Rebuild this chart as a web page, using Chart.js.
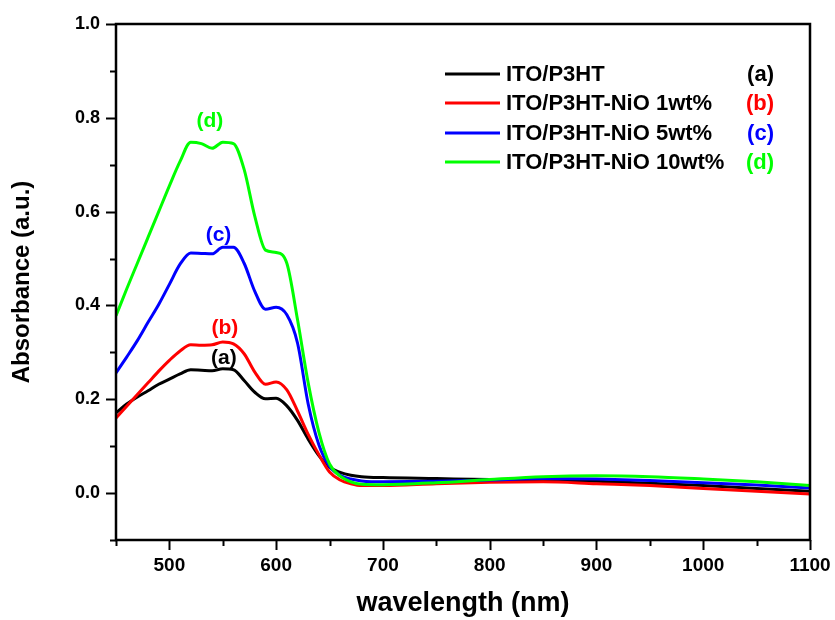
<!DOCTYPE html>
<html>
<head>
<meta charset="utf-8">
<script src="https://cdn.jsdelivr.net/npm/chart.js@4/dist/chart.umd.min.js"></script>
<style>
  html, body { margin: 0; padding: 0; background: #fff; }
  #wrap { width: 835px; height: 620px; }
</style>
</head>
<body>
<div id="wrap"><canvas id="absChart" width="835" height="620"></canvas></div>
<script>
// wavelength (nm)
const wavelength = [450, 460, 470, 480, 490, 500, 510, 520, 530, 540, 550, 560, 570, 580, 590, 600,
  610, 620, 630, 640, 650, 660, 670, 680, 700, 750, 800, 850, 900, 950, 1000, 1050, 1100];

// absorbance of each film
const p3ht = [0.171, 0.19, 0.205, 0.218, 0.232, 0.243, 0.254, 0.263, 0.262, 0.261, 0.265, 0.263, 0.24, 0.215, 0.201, 0.202,
  0.186, 0.155, 0.115, 0.08, 0.055, 0.044, 0.038, 0.035, 0.033, 0.031, 0.029, 0.028, 0.025, 0.021, 0.016, 0.01, 0.004];
const nio1 = [0.16, 0.185, 0.21, 0.235, 0.26, 0.283, 0.303, 0.316, 0.315, 0.316, 0.322, 0.318, 0.297, 0.258, 0.232, 0.237,
  0.22, 0.175, 0.125, 0.082, 0.045, 0.028, 0.02, 0.016, 0.016, 0.02, 0.023, 0.024, 0.02, 0.016, 0.01, 0.004, -0.002];
const nio5 = [0.256, 0.29, 0.325, 0.364, 0.402, 0.445, 0.488, 0.512, 0.511, 0.51, 0.524, 0.524, 0.49, 0.43, 0.392, 0.396,
  0.38, 0.32, 0.19, 0.103, 0.057, 0.038, 0.03, 0.026, 0.024, 0.025, 0.028, 0.031, 0.03, 0.027, 0.022, 0.017, 0.011];
const nio10 = [0.378, 0.435, 0.49, 0.545, 0.6, 0.655, 0.707, 0.748, 0.745, 0.735, 0.748, 0.745, 0.69, 0.59, 0.518, 0.513,
  0.49, 0.37, 0.235, 0.13, 0.062, 0.036, 0.024, 0.019, 0.018, 0.022, 0.029, 0.035, 0.037, 0.035, 0.03, 0.024, 0.016];

const seriesNames = ["ITO/P3HT", "ITO/P3HT-NiO 1wt%", "ITO/P3HT-NiO 5wt%", "ITO/P3HT-NiO 10wt%"];
const seriesTags = ["(a)", "(b)", "(c)", "(d)"];
const seriesColors = ["#000000", "#ff0000", "#0000ff", "#00ff00"];

// where the (a)..(d) tags sit, in data units [wavelength, absorbance]
const tagPoints = [[551, 0.288], [552, 0.352], [546, 0.55], [538, 0.793]];

const yTicks = [0.0, 0.2, 0.4, 0.6, 0.8, 1.0];
const xTicks = [500, 600, 700, 800, 900, 1000, 1100];

const allSeries = [p3ht, nio1, nio5, nio10];
const FONT = "'Liberation Sans', Arial, sans-serif";

const datasets = allSeries.map((vals, i) => ({
  label: seriesNames[i],
  data: wavelength.map((w, j) => ({ x: w, y: vals[j] })),
  borderColor: seriesColors[i],
  borderWidth: 3,
  pointRadius: 0,
  fill: false,
  cubicInterpolationMode: "monotone",
  order: allSeries.length - 1 - i
}));

// frame, tick marks, legend and tags
const decorPlugin = {
  id: "decor",
  afterDatasetsDraw(chart) {
    const ctx = chart.ctx;
    const a = chart.chartArea;
    const xs = chart.scales.x;
    const ys = chart.scales.y;
    ctx.save();
    ctx.strokeStyle = "#000";
    ctx.lineWidth = 2.5;
    ctx.strokeRect(a.left, a.top, a.right - a.left, a.bottom - a.top);

    ctx.lineWidth = 2;
    for (let v = -0.1; v <= 1.001; v += 0.1) {
      const y = Math.round(ys.getPixelForValue(v)) + 0.5;
      const major = yTicks.some(t => Math.abs(t - v) < 0.001);
      ctx.beginPath();
      ctx.moveTo(a.left, y);
      ctx.lineTo(a.left - (major ? 10 : 6), y);
      ctx.stroke();
    }
    for (let v = 450; v <= 1100; v += 50) {
      const x = Math.round(xs.getPixelForValue(v)) + 0.5;
      const major = xTicks.includes(v);
      ctx.beginPath();
      ctx.moveTo(x, a.bottom);
      ctx.lineTo(x, a.bottom + (major ? 10 : 6));
      ctx.stroke();
    }

    // legend
    ctx.font = "bold 22px " + FONT;
    ctx.textBaseline = "middle";
    const rowY = [74, 103, 133, 162];
    seriesNames.forEach((name, i) => {
      ctx.strokeStyle = seriesColors[i];
      ctx.lineWidth = 3;
      ctx.beginPath();
      ctx.moveTo(445, rowY[i]);
      ctx.lineTo(500, rowY[i]);
      ctx.stroke();
      ctx.fillStyle = "#000";
      ctx.textAlign = "left";
      ctx.fillText(name, 506, rowY[i] + 1);
      ctx.fillStyle = seriesColors[i];
      ctx.textAlign = "right";
      ctx.fillText(seriesTags[i], 774, rowY[i] + 1);
    });

    // tags on the curves
    ctx.font = "bold 21px " + FONT;
    ctx.textAlign = "center";
    tagPoints.forEach((p, i) => {
      ctx.fillStyle = seriesColors[i];
      ctx.fillText(seriesTags[i], xs.getPixelForValue(p[0]), ys.getPixelForValue(p[1]));
    });
    ctx.restore();
  }
};

const ctx = document.getElementById("absChart").getContext("2d");
const absChart = new Chart(ctx, {
  type: "line",
  data: { datasets: datasets },
  options: {
    responsive: false,
    animation: false,
    layout: { padding: { left: 0, top: 24, right: 25, bottom: 0 } },
    plugins: { legend: { display: false }, tooltip: { enabled: false } },
    scales: {
      x: {
        type: "linear",
        min: 450,
        max: 1100,
        grid: { display: false, drawTicks: false },
        border: { display: false },
        afterBuildTicks(scale) { scale.ticks = xTicks.map(v => ({ value: v })); },
        afterFit(scale) { scale.height = 80; scale.paddingLeft = 0; scale.paddingRight = 0; },
        ticks: {
          color: "#000",
          padding: 14,
          maxRotation: 0,
          callback: v => String(v),
          font: { family: FONT, size: 19, weight: "bold" }
        },
        title: {
          display: true,
          text: "wavelength (nm)",
          color: "#000",
          padding: { top: 0, bottom: 0 },
          font: { family: FONT, size: 27, weight: "bold" }
        }
      },
      y: {
        type: "linear",
        min: -0.1,
        max: 1.0,
        grid: { display: false, drawTicks: false },
        border: { display: false },
        afterBuildTicks(scale) { scale.ticks = yTicks.map(v => ({ value: v })); },
        afterFit(scale) { scale.width = 116; scale.paddingTop = 0; scale.paddingBottom = 0; },
        ticks: {
          color: "#000",
          padding: 16,
          callback: v => v.toFixed(1),
          font: { family: FONT, size: 18, weight: "bold" }
        },
        title: {
          display: true,
          text: "Absorbance (a.u.)",
          color: "#000",
          padding: { top: 8, bottom: 0 },
          font: { family: FONT, size: 24, weight: "bold" }
        }
      }
    }
  },
  plugins: [decorPlugin]
});
</script>
</body>
</html>
